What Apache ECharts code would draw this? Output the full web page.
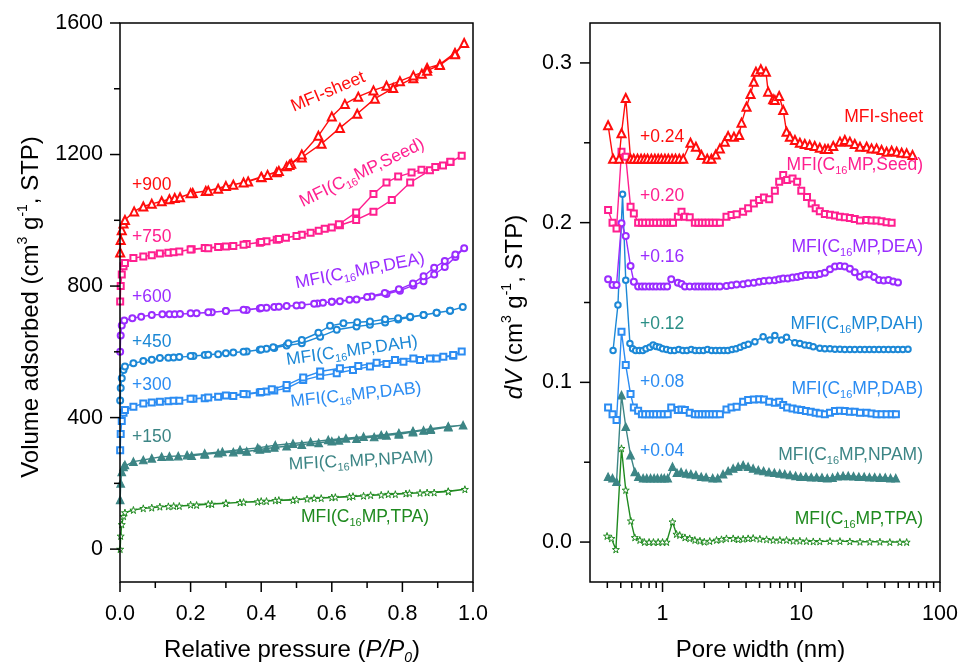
<!DOCTYPE html>
<html>
<head>
<meta charset="utf-8">
<title>MFI isotherms and pore size distribution</title>
<script src="https://cdn.jsdelivr.net/npm/echarts@6/dist/echarts.min.js"></script>
<style>
  html, body { margin: 0; padding: 0; background: #fff; }
  #main { width: 960px; height: 665px; }
</style>
</head>
<body>
<div id="main"></div>
<script>
// ---------- left panel: N2 isotherms (raw values, offsets added when drawn) ----------
var sheetAdsP = [0.0005, 0.002, 0.005, 0.01, 0.014, 0.04, 0.066, 0.09, 0.118, 0.14, 0.155, 0.17, 0.206, 0.243, 0.278, 0.321, 0.363, 0.401, 0.418, 0.444, 0.472, 0.485, 0.515, 0.571, 0.623, 0.672, 0.722, 0.774, 0.831, 0.855, 0.87, 0.906, 0.949, 0.975];
var sheetAdsV = [2, 40, 70, 90, 101, 127, 142, 150, 158, 164, 168, 170, 183, 189, 196, 208, 218, 231, 238, 246, 264, 272, 291, 333, 381, 424, 470, 502, 532, 546, 563, 574, 609, 639];
var sheetDesP = [0.949, 0.906, 0.87, 0.831, 0.793, 0.755, 0.718, 0.675, 0.637, 0.6, 0.562, 0.515, 0.48, 0.45, 0.4, 0.35, 0.3, 0.25, 0.2];
var sheetDesV = [605, 572, 555, 540, 523, 509, 495, 476, 454, 416, 357, 300, 268, 250, 232, 215, 204, 190, 182];

var seedAdsP = [0.0005, 0.002, 0.005, 0.01, 0.014, 0.038, 0.066, 0.09, 0.113, 0.137, 0.152, 0.168, 0.203, 0.24, 0.278, 0.321, 0.359, 0.396, 0.415, 0.444, 0.47, 0.515, 0.563, 0.6, 0.623, 0.669, 0.718, 0.77, 0.822, 0.878, 0.915, 0.936, 0.968];
var seedAdsV = [3, 50, 85, 110, 120, 135, 140, 144, 149, 151, 153, 155, 162, 166, 169, 172, 178, 182, 186, 191, 197, 206, 218, 228, 235, 251, 276, 312, 365, 402, 417, 427, 446];
var seedDesP = [0.936, 0.893, 0.854, 0.826, 0.788, 0.755, 0.718, 0.669, 0.62, 0.58, 0.54, 0.5, 0.45, 0.4, 0.35, 0.3, 0.25, 0.2];
var seedDesV = [428, 412, 404, 395, 383, 365, 330, 274, 238, 224, 212, 202, 193, 184, 176, 170, 165, 161];

var deaAdsP = [0.0005, 0.002, 0.005, 0.012, 0.035, 0.06, 0.09, 0.12, 0.14, 0.155, 0.17, 0.217, 0.26, 0.3, 0.359, 0.396, 0.415, 0.437, 0.472, 0.515, 0.56, 0.575, 0.6, 0.623, 0.67, 0.713, 0.755, 0.793, 0.831, 0.86, 0.89, 0.92, 0.95, 0.975];
var deaAdsV = [0, 50, 80, 95, 102, 107, 112, 114, 114, 114, 115, 117, 120, 124, 127, 132, 134, 136, 139, 142, 147, 149, 152, 154, 159, 168, 176, 186, 202, 215, 235, 258, 288, 315];
var deaDesP = [0.95, 0.92, 0.89, 0.86, 0.83, 0.79, 0.75, 0.7, 0.65, 0.6, 0.55, 0.5, 0.45, 0.4, 0.35, 0.3, 0.25, 0.2];
var deaDesV = [296, 276, 256, 230, 208, 190, 179, 167, 158, 152, 146, 141, 137, 133, 128, 124, 120, 117];

var dahAdsP = [0.0005, 0.002, 0.005, 0.01, 0.014, 0.038, 0.066, 0.09, 0.113, 0.137, 0.152, 0.168, 0.208, 0.24, 0.278, 0.321, 0.359, 0.396, 0.415, 0.437, 0.472, 0.515, 0.567, 0.614, 0.67, 0.708, 0.751, 0.788, 0.822, 0.86, 0.897, 0.935, 0.971];
var dahAdsV = [2, 40, 70, 95, 105, 115, 122, 126, 131, 132, 133, 134, 137, 140, 143, 148, 151, 156, 159, 162, 169, 176, 196, 217, 227, 232, 239, 248, 255, 262, 269, 275, 286];
var dahDesP = [0.935, 0.897, 0.86, 0.822, 0.788, 0.751, 0.708, 0.672, 0.633, 0.595, 0.562, 0.515, 0.477, 0.434, 0.4, 0.35, 0.3, 0.25, 0.2];
var dahDesV = [275, 269, 262, 257, 252, 249, 242, 240, 237, 229, 208, 186, 176, 164, 157, 150, 146, 141, 137];

var dabAdsP = [0.0005, 0.002, 0.005, 0.01, 0.014, 0.038, 0.066, 0.09, 0.113, 0.137, 0.152, 0.168, 0.208, 0.24, 0.278, 0.321, 0.359, 0.396, 0.415, 0.437, 0.472, 0.519, 0.567, 0.614, 0.66, 0.708, 0.755, 0.803, 0.85, 0.897, 0.944, 0.968];
var dabAdsV = [1, 50, 90, 115, 123, 133, 143, 146, 148, 150, 151, 151, 157, 159, 163, 166, 171, 176, 179, 182, 189, 214, 227, 235, 245, 255, 263, 270, 275, 280, 288, 301];
var dabDesP = [0.944, 0.916, 0.878, 0.831, 0.779, 0.727, 0.675, 0.623, 0.567, 0.519, 0.472, 0.43, 0.4, 0.35, 0.3, 0.25, 0.2];
var dabDesV = [290, 285, 280, 280, 275, 267, 257, 250, 240, 222, 199, 186, 178, 172, 167, 161, 157];

var npamAdsP = [0.0005, 0.002, 0.005, 0.01, 0.014, 0.038, 0.066, 0.09, 0.118, 0.14, 0.165, 0.203, 0.24, 0.278, 0.321, 0.359, 0.396, 0.415, 0.437, 0.472, 0.515, 0.563, 0.6, 0.62, 0.67, 0.72, 0.755, 0.79, 0.83, 0.86, 0.88, 0.93, 0.972];
var npamAdsV = [0, 50, 85, 100, 106, 116, 121, 126, 131, 132, 133, 134, 138, 142, 145, 147, 153, 156, 159, 163, 168, 173, 178, 181, 186, 191, 196, 199, 206, 211, 213, 221, 227];
var npamDesP = [0.93, 0.88, 0.83, 0.79, 0.74, 0.69, 0.64, 0.59, 0.54, 0.49, 0.44, 0.39, 0.34, 0.29, 0.24, 0.19];
var npamDesV = [223, 216, 209, 203, 197, 192, 187, 182, 176, 171, 166, 158, 152, 146, 141, 136];

var tpaAdsP = [0.0005, 0.002, 0.005, 0.01, 0.014, 0.038, 0.066, 0.09, 0.113, 0.137, 0.152, 0.168, 0.217, 0.26, 0.3, 0.34, 0.39, 0.415, 0.44, 0.49, 0.53, 0.57, 0.6, 0.65, 0.69, 0.74, 0.78, 0.81, 0.85, 0.89, 0.93, 0.977];
var tpaAdsV = [0, 40, 75, 100, 111, 119, 124, 126, 129, 130, 131, 131, 134, 137, 139, 142, 144, 146, 148, 149, 153, 155, 157, 159, 162, 165, 167, 169, 171, 172, 175, 182];
var tpaDesP = [0.93, 0.87, 0.82, 0.76, 0.71, 0.66, 0.61, 0.55, 0.5, 0.45, 0.4, 0.35, 0.3, 0.25, 0.2];
var tpaDesV = [176, 172, 170, 167, 164, 161, 158, 155, 151, 149, 146, 143, 140, 137, 135];

var isoOffsets = [900, 750, 600, 450, 300, 150, 0];
var isoOffsetLabels = ['+900', '+750', '+600', '+450', '+300', '+150'];

// ---------- right panel: pore size distributions (raw dV, offsets added when drawn) ----------
var sheetW = [0.405, 0.44, 0.486, 0.506, 0.543, 0.588, 0.62, 0.66, 0.70, 0.74, 0.78, 0.83, 0.88, 0.93, 0.98, 1.04, 1.10, 1.17, 1.24, 1.32, 1.41, 1.59, 1.74, 1.91, 2.10, 2.25, 2.42, 2.59, 2.81, 2.97, 3.27, 3.57, 3.71, 4.03, 4.31, 4.55, 4.71, 5.11, 5.56, 5.77, 6.27, 6.45, 6.93, 7.41, 7.83, 8.28, 9.0, 9.77, 10.6, 11.5, 12.5, 13.6, 14.8, 15.6, 17.0, 19.0, 20.6, 22.4, 24.3, 26.5, 29.6, 32.1, 34.9, 37.9, 41.2, 44.8, 48.7, 52.9, 57.5, 63.4];
var sheetDV = [0.021, 0, 0, 0.016, 0.038, 0, 0, 0, 0, 0, 0, 0, 0, 0, 0, 0, 0, 0, 0, 0, 0, 0.010, 0.0075, 0.0023, 0, 0, 0.0026, 0.0065, 0.0107, 0.0142, 0.0138, 0.0149, 0.0226, 0.0326, 0.0405, 0.0482, 0.0545, 0.056, 0.0545, 0.042, 0.0372, 0.0368, 0.0393, 0.0305, 0.0169, 0.0138, 0.0117, 0.010, 0.0092, 0.0086, 0.008, 0.0069, 0.0061, 0.0061, 0.008, 0.0107, 0.0117, 0.0107, 0.0092, 0.0075, 0.0075, 0.0065, 0.0065, 0.0055, 0.0044, 0.005, 0.0044, 0.0038, 0.0034, 0.0023];

var seedW = [0.405, 0.436, 0.466, 0.506, 0.543, 0.588, 0.621, 0.667, 0.71, 0.75, 0.80, 0.85, 0.90, 0.96, 1.02, 1.08, 1.14, 1.19, 1.29, 1.37, 1.45, 1.57, 1.71, 1.81, 1.92, 2.03, 2.15, 2.28, 2.42, 2.59, 2.89, 3.14, 3.42, 3.81, 4.14, 4.55, 4.97, 5.38, 5.87, 6.45, 6.93, 7.41, 7.91, 8.65, 9.34, 10.0, 11.0, 11.9, 12.7, 13.6, 14.8, 16.1, 17.5, 19.0, 20.6, 22.4, 24.3, 26.5, 29.6, 32.1, 34.9, 37.9, 41.2, 44.8];
var seedDV = [0.0079, 0, -0.0036, 0.0444, 0.0413, 0.010, 0.0058, 0, 0, 0, 0, 0, 0, 0, 0, 0, 0, 0, 0.0037, 0.0068, 0.0037, 0.0033, 0, 0, 0, 0, 0, 0, 0, 0, 0.0037, 0.0048, 0.0052, 0.0068, 0.009, 0.012, 0.0142, 0.0158, 0.0146, 0.020, 0.0256, 0.0298, 0.0267, 0.0277, 0.0256, 0.020, 0.016, 0.012, 0.009, 0.0071, 0.0054, 0.005, 0.0044, 0.0037, 0.0033, 0.0029, 0.0023, 0.0013, 0.0017, 0.0013, 0.0013, 0.0008, 0.0002, 0];

var deaW = [0.405, 0.436, 0.466, 0.506, 0.543, 0.588, 0.621, 0.667, 0.71, 0.75, 0.80, 0.85, 0.90, 0.96, 1.02, 1.08, 1.155, 1.29, 1.37, 1.45, 1.57, 1.71, 1.81, 1.92, 2.03, 2.15, 2.28, 2.42, 2.59, 2.89, 3.14, 3.42, 3.81, 4.14, 4.55, 4.97, 5.38, 5.87, 6.45, 6.93, 7.41, 8.0, 8.65, 9.34, 10.0, 10.8, 11.7, 12.7, 13.6, 14.8, 16.1, 17.5, 19.0, 20.6, 22.4, 24.3, 26.5, 28.7, 31.0, 33.5, 36.3, 39.3, 42.5, 46.0, 49.8];
var deaDV = [0.0045, 0.001, 0.001, 0.0396, 0.0316, 0.0128, 0.003, 0, 0, 0, 0, 0, 0, 0, 0, 0, 0.0045, 0.0024, 0.0016, 0, 0, 0, 0, 0, 0, 0, 0, 0, 0, 0.0003, 0.0008, 0.0012, 0.0015, 0.002, 0.0024, 0.003, 0.0035, 0.0037, 0.004, 0.0045, 0.005, 0.005, 0.0056, 0.006, 0.0066, 0.0072, 0.0072, 0.0072, 0.0078, 0.0087, 0.0108, 0.0125, 0.0129, 0.0125, 0.0112, 0.009, 0.0062, 0.0075, 0.0075, 0.006, 0.0041, 0.0037, 0.0041, 0.0031, 0.0025];

var dahW = [0.44, 0.477, 0.515, 0.543, 0.582, 0.608, 0.64, 0.68, 0.72, 0.76, 0.81, 0.855, 0.90, 0.95, 1.0, 1.07, 1.14, 1.22, 1.31, 1.40, 1.50, 1.61, 1.72, 1.84, 1.97, 2.11, 2.26, 2.42, 2.59, 2.77, 2.96, 3.17, 3.39, 3.63, 3.88, 4.15, 4.63, 5.31, 5.94, 6.45, 7.2, 7.83, 8.98, 9.77, 10.6, 11.4, 12.2, 13.6, 14.8, 16.1, 17.5, 19.0, 20.6, 22.4, 24.3, 26.5, 28.7, 31.0, 33.5, 36.3, 39.3, 42.5, 46.0, 49.8, 54.0, 58.8];
var dahDV = [0, 0.0285, 0.0977, 0.044, 0.0044, 0.001, 0, 0, 0, 0.001, 0.002, 0.0034, 0.0025, 0.002, 0.001, 0.0005, 0, 0, 0.0005, 0, 0, 0.0005, 0, 0, 0, 0.0005, 0, 0, 0, 0, 0, 0.0005, 0.001, 0.002, 0.003, 0.0038, 0.0055, 0.0086, 0.0065, 0.0094, 0.0065, 0.0082, 0.0048, 0.0044, 0.0034, 0.003, 0.0023, 0.0013, 0.001, 0.001, 0.0008, 0.0008, 0.0006, 0.0006, 0.0005, 0.0005, 0.0005, 0.0005, 0.0006, 0.0006, 0.0005, 0.0005, 0.0005, 0.0005, 0.0006, 0.0008];

var dabW = [0.405, 0.436, 0.466, 0.506, 0.543, 0.588, 0.621, 0.667, 0.71, 0.75, 0.80, 0.85, 0.90, 0.96, 1.02, 1.09, 1.155, 1.29, 1.37, 1.45, 1.57, 1.71, 1.81, 1.92, 2.03, 2.15, 2.28, 2.42, 2.59, 2.89, 3.14, 3.42, 3.81, 4.14, 4.55, 4.97, 5.38, 5.87, 6.45, 6.93, 7.41, 7.91, 8.65, 9.34, 10.0, 10.8, 11.7, 12.7, 13.6, 14.8, 16.1, 17.5, 19.0, 20.6, 22.4, 24.3, 26.5, 29.6, 32.1, 34.9, 37.9, 41.2, 44.8, 48.1];
var dabDV = [0.0043, 0, -0.0036, 0.0517, 0.0308, 0.0127, 0.0043, 0.0022, 0, 0, 0, 0, 0, 0, 0, 0, 0.0043, 0.0027, 0.003, 0.0027, 0.001, 0, 0, 0, 0, 0, 0, 0, 0, 0.003, 0.0043, 0.0047, 0.0079, 0.0089, 0.0093, 0.0095, 0.0093, 0.0079, 0.0072, 0.0079, 0.0058, 0.0043, 0.0037, 0.003, 0.0027, 0.002, 0.0016, 0.001, 0.0005, 0, 0.001, 0.002, 0.0022, 0.002, 0.0016, 0.0016, 0.001, 0.001, 0.0005, 0, 0, 0, 0, 0];

var npamW = [0.405, 0.436, 0.466, 0.506, 0.543, 0.588, 0.631, 0.67, 0.725, 0.77, 0.82, 0.87, 0.92, 0.98, 1.03, 1.09, 1.18, 1.27, 1.36, 1.48, 1.6, 1.74, 1.9, 2.06, 2.3, 2.5, 2.73, 2.97, 3.23, 3.51, 3.81, 4.14, 4.5, 4.9, 5.35, 5.85, 6.4, 7.0, 7.6, 8.3, 9.1, 9.9, 10.8, 11.8, 12.9, 14.1, 15.4, 16.8, 18.3, 20.0, 21.8, 23.8, 26.0, 28.4, 31.0, 33.8, 36.9, 40.3, 44.0, 48.0];
var npamDV = [0.0009, 0, -0.0022, 0.052, 0.0322, 0.0145, 0.004, 0.001, 0, 0, 0, 0, 0, 0, 0, 0, 0.0072, 0.0034, 0.0038, 0.003, 0.0026, 0.002, 0.0009, 0.0006, 0, 0, 0.0025, 0.0045, 0.0061, 0.0072, 0.0082, 0.0072, 0.0061, 0.0051, 0.0045, 0.0038, 0.0034, 0.003, 0.0026, 0.002, 0.0015, 0.0009, 0.0009, 0.0006, 0.0006, 0.0004, 0, 0.0004, 0.0012, 0.0015, 0.0015, 0.0012, 0.0009, 0.0009, 0.0006, 0.0006, 0.0004, 0.0004, 0, 0];

var tpaW = [0.398, 0.428, 0.461, 0.506, 0.543, 0.591, 0.631, 0.686, 0.74, 0.80, 0.86, 0.93, 1.0, 1.07, 1.18, 1.26, 1.33, 1.45, 1.57, 1.71, 1.86, 2.0, 2.19, 2.45, 2.66, 2.89, 3.23, 3.51, 3.81, 4.14, 4.5, 5.03, 5.62, 6.27, 7.01, 7.83, 8.74, 9.77, 10.9, 12.2, 13.6, 16.1, 19.0, 22.4, 26.5, 31.2, 36.9, 43.5, 51.4, 57.5];
var tpaDV = [0.0038, 0.0023, -0.0046, 0.0587, 0.0326, 0.0133, 0.0029, 0.0013, 0, 0, 0, 0, 0, 0, 0.0127, 0.005, 0.0044, 0.0029, 0.0023, 0.0013, 0.0008, 0.0002, 0.0006, 0.0013, 0.0017, 0.0023, 0.0023, 0.0017, 0.002, 0.0023, 0.0025, 0.002, 0.0017, 0.0013, 0.0013, 0.0013, 0.0008, 0.0008, 0.0006, 0.0004, 0.0004, 0.0006, 0.0006, 0.0004, 0.0002, 0.0002, 0.0002, 0, 0, 0];

var psdOffsets = [0.24, 0.20, 0.16, 0.12, 0.08, 0.04, 0];
var psdOffsetLabels = ['+0.24', '+0.20', '+0.16', '+0.12', '+0.08', '+0.04'];

// ---------- axis ranges and ticks ----------
var isoX = [0, 1];
var isoY = [-100, 1600];
var psdX = [0.3, 100];
var psdY = [-0.025, 0.325];
var isoXTicks = [0, 0.2, 0.4, 0.6, 0.8, 1.0];
var isoXMinor = [0.1, 0.3, 0.5, 0.7, 0.9];
var isoYTicks = [0, 400, 800, 1200, 1600];
var isoYMinor = [200, 600, 1000, 1400];
var psdXTicks = [1, 10, 100];
var psdXMinor = [0.4, 0.5, 0.6, 0.7, 0.8, 0.9, 2, 3, 4, 5, 6, 7, 8, 9, 20, 30, 40, 50, 60, 70, 80, 90];
var psdYTicks = [0, 0.1, 0.2, 0.3];
var psdYMinor = [0.05, 0.15, 0.25];

// ---------- layout ----------
// plot frames; the grids are a little larger so outward ticks stay inside the drawing area
var FRAME_L = {left: 120, top: 23, width: 353, height: 559};
var FRAME_R = {left: 590, top: 23, width: 350, height: 559};
var PAD = {left: 12, bottom: 12, top: 3, right: 3};

function padLinear(r, px, lo, hi) {
    var u = (r[1] - r[0]) / px;
    return [r[0] - lo * u, r[1] + hi * u];
}
function padLog(r, px, lo, hi) {
    var a = Math.log10(r[0]), b = Math.log10(r[1]), u = (b - a) / px;
    return [Math.pow(10, a - lo * u), Math.pow(10, b + hi * u)];
}
function gridOf(f) {
    return {
        left: f.left - PAD.left, top: f.top - PAD.top,
        width: f.width + PAD.left + PAD.right, height: f.height + PAD.top + PAD.bottom,
        show: false, containLabel: false, outerBoundsMode: 'none'
    };
}
var isoXR = padLinear(isoX, FRAME_L.width, PAD.left, PAD.right);
var isoYR = padLinear(isoY, FRAME_L.height, PAD.bottom, PAD.top);
var psdXR = padLog(psdX, FRAME_R.width, PAD.left, PAD.right);
var psdYR = padLinear(psdY, FRAME_R.height, PAD.bottom, PAD.top);

// ---------- styles ----------
var FONT = '"Liberation Sans", Arial, Helvetica, sans-serif';
var C_SHEET = '#ff0d0d';
var C_SEED = '#ff1f8f';
var C_DEA = '#9a2cff';
var C_DAH = '#1c88d6';
var C_DAB = '#2b8cf2';
var C_NPAM = '#3c8585';
var C_TPA = '#1f8a1f';
var C_PLUS012 = '#2b8f86';
var STAR = 'path://M50,0 L61,35 L98,35 L68,57 L79,91 L50,70 L21,91 L32,57 L2,35 L39,35 Z';

var samples = [
    {name: 'MFI-sheet', sub: null, color: C_SHEET, sym: 'emptyTriangle', symL: 8, symR: 8,
        ads: [sheetAdsP, sheetAdsV], des: [sheetDesP, sheetDesV], psd: [sheetW, sheetDV]},
    {name: 'Seed', sub: true, color: C_SEED, sym: 'emptyRect', symL: 6, symR: 6,
        ads: [seedAdsP, seedAdsV], des: [seedDesP, seedDesV], psd: [seedW, seedDV]},
    {name: 'DEA', sub: true, color: C_DEA, sym: 'emptyCircle', symL: 6, symR: 6,
        ads: [deaAdsP, deaAdsV], des: [deaDesP, deaDesV], psd: [deaW, deaDV]},
    {name: 'DAH', sub: true, color: C_DAH, sym: 'emptyCircle', symL: 6, symR: 5.5,
        ads: [dahAdsP, dahAdsV], des: [dahDesP, dahDesV], psd: [dahW, dahDV]},
    {name: 'DAB', sub: true, color: C_DAB, sym: 'emptyRect', symL: 6, symR: 6,
        ads: [dabAdsP, dabAdsV], des: [dabDesP, dabDesV], psd: [dabW, dabDV]},
    {name: 'NPAM', sub: true, color: C_NPAM, sym: 'triangle', symL: 7.5, symR: 7.5,
        ads: [npamAdsP, npamAdsV], des: [npamDesP, npamDesV], psd: [npamW, npamDV]},
    {name: 'TPA', sub: true, color: C_TPA, sym: STAR, symL: 7, symR: 7, star: true,
        ads: [tpaAdsP, tpaAdsV], des: [tpaDesP, tpaDesV], psd: [tpaW, tpaDV]}
];

function pairs(xs, ys, off) {
    var out = [];
    for (var i = 0; i < xs.length; i++) {
        out.push([xs[i], ys[i] + off]);
    }
    return out;
}

var series = [];
samples.forEach(function (s, k) {
    var item = s.star ? {color: '#fff', borderColor: s.color, borderWidth: 1} : {color: s.color, borderColor: s.color, borderWidth: 1.2};
    var common = {
        type: 'line',
        symbol: s.sym,
        showAllSymbol: true,
        lineStyle: {color: s.color, width: 1.4},
        itemStyle: item,
        z: 10 - k,
        silent: true
    };
    // isotherm: adsorption branch then desorption branch back down
    var iso = pairs(s.ads[0], s.ads[1], isoOffsets[k]).concat(pairs(s.des[0], s.des[1], isoOffsets[k]));
    series.push(Object.assign({}, common, {xAxisIndex: 0, yAxisIndex: 0, symbolSize: s.symL, data: iso}));
    series.push(Object.assign({}, common, {xAxisIndex: 1, yAxisIndex: 1, symbolSize: s.symR,
        data: pairs(s.psd[0], s.psd[1], psdOffsets[k])}));
});

// plot frame, from the data corners
function frame(panel, xr, yr) {
    return {
        type: 'custom', xAxisIndex: panel, yAxisIndex: panel, silent: true, z: 20,
        data: [[xr[0], yr[0], xr[1], yr[1]]],
        renderItem: function (params, api) {
            var p0 = api.coord([api.value(0), api.value(1)]);
            var p1 = api.coord([api.value(2), api.value(3)]);
            return {
                type: 'rect',
                shape: {x: p0[0], y: p1[1], width: p1[0] - p0[0], height: p0[1] - p1[1]},
                style: {fill: 'none', stroke: '#000', lineWidth: 1.5}
            };
        }
    };
}
// outward tick marks, placed through the panel's own scales
function tickMarks(panel, dir, values, edge, len) {
    var data = values.map(function (v) { return dir === 'x' ? [v, edge] : [edge, v]; });
    return {
        type: 'custom', xAxisIndex: panel, yAxisIndex: panel, silent: true, z: 20,
        data: data,
        renderItem: function (params, api) {
            var p = api.coord([api.value(0), api.value(1)]);
            var end = dir === 'x' ? [p[0], p[1] + len] : [p[0] - len, p[1]];
            return {
                type: 'line',
                shape: {x1: p[0], y1: p[1], x2: end[0], y2: end[1]},
                style: {stroke: '#000', lineWidth: 1.5}
            };
        }
    };
}
series.push(frame(0, isoX, isoY));
series.push(frame(1, psdX, psdY));
series.push(tickMarks(0, 'x', isoXTicks, isoY[0], 10));
series.push(tickMarks(0, 'x', isoXMinor, isoY[0], 6));
series.push(tickMarks(0, 'y', isoYTicks, isoX[0], 10));
series.push(tickMarks(0, 'y', isoYMinor, isoX[0], 6));
series.push(tickMarks(1, 'x', psdXTicks, psdY[0], 10));
series.push(tickMarks(1, 'x', psdXMinor, psdY[0], 6));
series.push(tickMarks(1, 'y', psdYTicks, psdX[0], 10));
series.push(tickMarks(1, 'y', psdYMinor, psdX[0], 6));

// ---------- text annotations ----------
var labelRich = {
    a: {fontSize: 17.5, fontFamily: FONT, lineHeight: 22},
    s: {fontSize: 11, fontFamily: FONT, lineHeight: 6, verticalAlign: 'bottom'}
};
function sampleText(s) {
    if (!s.sub) return '{a|' + s.name + '}';
    return '{a|MFI(C}{s|16}{a|MP,' + s.name + ')}';
}
function textEl(x, y, text, color, align, rotDeg) {
    return {
        type: 'text', x: x, y: y, rotation: (rotDeg || 0) * Math.PI / 180, z: 100, silent: true,
        style: {
            text: text, rich: labelRich, fill: color, font: '17.5px ' + FONT,
            align: align, textAlign: align, verticalAlign: 'middle', textVerticalAlign: 'middle'
        }
    };
}

var leftNamePos = [[328, 92, 23], [362, 173, 26], [360, 271, 11], [352, 351, 8], [356, 395, 6], [361, 461, 3], [365, 517, 0]];
var leftOffY = [185, 237, 297, 342, 385, 437];
var rightNameY = [117, 165, 247, 324, 389, 455, 519];
var rightOffY = [137, 196, 257, 324, 382, 451];
var rightOffColors = [C_SHEET, C_SEED, C_DEA, C_PLUS012, C_DAB, C_DAB];

var graphics = [];
samples.forEach(function (s, k) {
    var p = leftNamePos[k];
    graphics.push(textEl(p[0], p[1], sampleText(s), s.color, 'center', p[2]));
    graphics.push(textEl(923, rightNameY[k], sampleText(s), s.color, 'right', 0));
    if (k < isoOffsetLabels.length) {
        graphics.push(textEl(132, leftOffY[k], '{a|' + isoOffsetLabels[k] + '}', s.color, 'left', 0));
        graphics.push(textEl(640, rightOffY[k], '{a|' + psdOffsetLabels[k] + '}', rightOffColors[k], 'left', 0));
    }
});

// ---------- axes ----------
var axisLabelStyle = {fontSize: 21.5, fontFamily: FONT, color: '#000'};
var titleRich = {
    a: {fontSize: 24, fontFamily: FONT, color: '#000', lineHeight: 30},
    i: {fontSize: 24, fontFamily: FONT, color: '#000', fontStyle: 'italic', lineHeight: 30},
    sup: {fontSize: 14, fontFamily: FONT, color: '#000', lineHeight: 14, verticalAlign: 'top'},
    is: {fontSize: 14, fontFamily: FONT, color: '#000', fontStyle: 'italic', lineHeight: 8, verticalAlign: 'bottom'}
};
var fix1 = function (v) { return v.toFixed(1); };
var plain = function (v) { return String(v); };

function mainAxis(extra) {
    return Object.assign({
        axisLine: {show: false, onZero: false},
        axisTick: {show: false},
        splitLine: {show: false},
        minorTick: {show: false},
        nameLocation: 'middle',
        nameTextStyle: {rich: titleRich}
    }, extra);
}
function labelled(ticks, margin, fmt) {
    return Object.assign({show: true, margin: margin, customValues: ticks, formatter: fmt,
        showMinLabel: true, showMaxLabel: true, hideOverlap: false}, axisLabelStyle);
}

var option = {
    backgroundColor: '#fff',
    animation: false,
    grid: [gridOf(FRAME_L), gridOf(FRAME_R)],
    xAxis: [
        mainAxis({
            gridIndex: 0, type: 'value', min: isoXR[0], max: isoXR[1], axisLabel: labelled(isoXTicks, 9, fix1),
            name: '{a|Relative pressure (}{i|P/P}{is|0}{a|)}', nameGap: 41
        }),
        mainAxis({
            gridIndex: 1, type: 'log', logBase: 10, min: psdXR[0], max: psdXR[1], axisLabel: labelled(psdXTicks, 9, plain),
            name: '{a|Pore width (nm)}', nameGap: 41
        })
    ],
    yAxis: [
        mainAxis({
            gridIndex: 0, type: 'value', min: isoYR[0], max: isoYR[1], axisLabel: labelled(isoYTicks, 5, plain),
            name: '{a|Volume adsorbed (cm}{sup|3}{a| g}{sup|-1}{a|, STP)}', nameGap: 62, nameRotate: 90
        }),
        mainAxis({
            gridIndex: 1, type: 'value', min: psdYR[0], max: psdYR[1], axisLabel: labelled(psdYTicks, 6, fix1),
            name: '{i|dV}{a| (cm}{sup|3}{a| g}{sup|-1}{a|, STP)}', nameGap: 48, nameRotate: 90
        })
    ],
    series: series,
    graphic: graphics
};

var chart = echarts.init(document.getElementById('main'), null, {renderer: 'canvas'});
chart.setOption(option);
</script>
</body>
</html>
